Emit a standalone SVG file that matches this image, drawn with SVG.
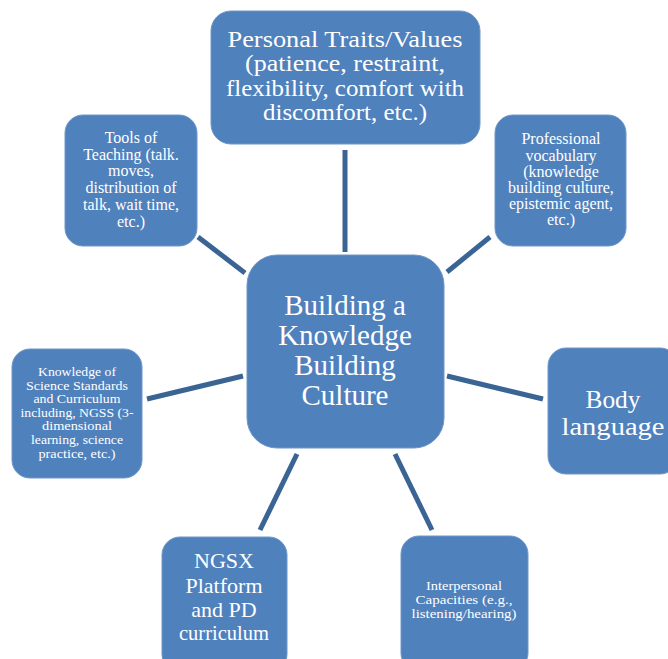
<svg xmlns="http://www.w3.org/2000/svg" width="668" height="659" viewBox="0 0 668 659">
<style>
.n{fill:#4F81BD;stroke:#6E96C8;stroke-width:1}
.t{fill:#FFFFFF;font-family:"Liberation Serif","DejaVu Serif",serif;text-anchor:middle}
.c{stroke:#3A6493;stroke-width:5;fill:none}
</style>
<rect width="668" height="659" fill="#FFFFFF"/>
<g id="connectors">
<line class="c" x1="345" y1="150" x2="345" y2="252"/>
<line class="c" x1="198" y1="237" x2="245" y2="273"/>
<line class="c" x1="447" y1="272" x2="490" y2="237"/>
<line class="c" x1="147" y1="399" x2="243" y2="376"/>
<line class="c" x1="447" y1="376" x2="543" y2="399"/>
<line class="c" x1="297" y1="454" x2="260" y2="530"/>
<line class="c" x1="395" y1="454" x2="432" y2="530"/>
</g>
<g id="center">
<rect class="n" x="247" y="255" width="197" height="193" rx="30"/>
<g class="t" style="font-size:29px">
<text x="345" y="315">Building a</text>
<text x="345" y="345">Knowledge</text>
<text x="345" y="375">Building</text>
<text x="345" y="405">Culture</text>
</g>
</g>
<g id="personal">
<rect class="n" x="211" y="11" width="269" height="133" rx="20"/>
<g class="t" style="font-size:23px">
<text x="345" y="47" textLength="235" lengthAdjust="spacingAndGlyphs">Personal Traits/Values</text>
<text x="345" y="71" textLength="200" lengthAdjust="spacingAndGlyphs">(patience, restraint,</text>
<text x="345" y="96" textLength="238" lengthAdjust="spacingAndGlyphs">flexibility, comfort with</text>
<text x="345" y="120" textLength="164" lengthAdjust="spacingAndGlyphs">discomfort, etc.)</text>
</g>
</g>
<g id="tools">
<rect class="n" x="65" y="115" width="132" height="131" rx="18"/>
<g class="t" style="font-size:16px">
<text x="131" y="143">Tools of</text>
<text x="131" y="160">Teaching (talk.</text>
<text x="131" y="176">moves,</text>
<text x="131" y="193">distribution of</text>
<text x="131" y="210">talk, wait time,</text>
<text x="131" y="227">etc.)</text>
</g>
</g>
<g id="professional">
<rect class="n" x="495" y="115" width="131" height="131" rx="18"/>
<g class="t" style="font-size:16px">
<text x="561" y="144">Professional</text>
<text x="561" y="161">vocabulary</text>
<text x="561" y="177">(knowledge</text>
<text x="561" y="193">building culture,</text>
<text x="561" y="209">epistemic agent,</text>
<text x="561" y="225">etc.)</text>
</g>
</g>
<g id="knowledge">
<rect class="n" x="12" y="349" width="130" height="129" rx="18"/>
<g class="t" style="font-size:12.5px">
<text x="77" y="376" textLength="78" lengthAdjust="spacingAndGlyphs">Knowledge of</text>
<text x="77" y="390" textLength="102" lengthAdjust="spacingAndGlyphs">Science Standards</text>
<text x="77" y="403" textLength="87" lengthAdjust="spacingAndGlyphs">and Curriculum</text>
<text x="77" y="417" textLength="113" lengthAdjust="spacingAndGlyphs">including, NGSS (3-</text>
<text x="77" y="430" textLength="70" lengthAdjust="spacingAndGlyphs">dimensional</text>
<text x="77" y="444" textLength="92" lengthAdjust="spacingAndGlyphs">learning, science</text>
<text x="77" y="458" textLength="77" lengthAdjust="spacingAndGlyphs">practice, etc.)</text>
</g>
</g>
<g id="body">
<rect class="n" x="548" y="348" width="130" height="126" rx="18"/>
<g class="t" style="font-size:26px">
<text x="613" y="408" textLength="55" lengthAdjust="spacingAndGlyphs">Body</text>
<text x="613" y="435" textLength="103" lengthAdjust="spacingAndGlyphs">language</text>
</g>
</g>
<g id="ngsx">
<rect class="n" x="162" y="537" width="125" height="135" rx="18"/>
<g class="t" style="font-size:22px">
<text x="224" y="568">NGSX</text>
<text x="224" y="593">Platform</text>
<text x="224" y="617">and PD</text>
<text x="224" y="640" textLength="90" lengthAdjust="spacingAndGlyphs">curriculum</text>
</g>
</g>
<g id="interpersonal">
<rect class="n" x="401" y="536" width="127" height="135" rx="18"/>
<g class="t" style="font-size:12.5px">
<text x="464" y="590" textLength="76" lengthAdjust="spacingAndGlyphs">Interpersonal</text>
<text x="464" y="604" textLength="97" lengthAdjust="spacingAndGlyphs">Capacities (e.g.,</text>
<text x="464" y="618" textLength="105" lengthAdjust="spacingAndGlyphs">listening/hearing)</text>
</g>
</g>
</svg>
